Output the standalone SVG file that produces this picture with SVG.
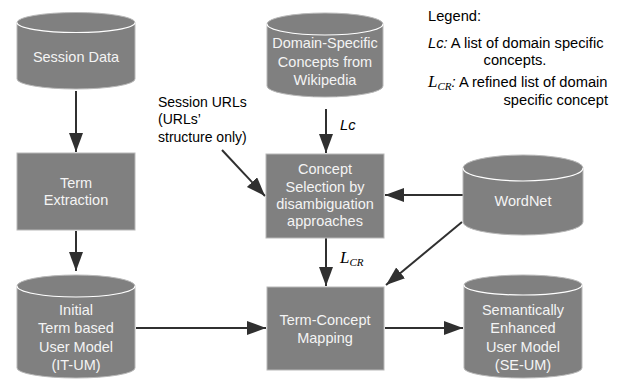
<svg xmlns="http://www.w3.org/2000/svg" width="629" height="379" viewBox="0 0 629 379">
  <style>
    .node { fill: #808080; stroke: #b8b8b8; stroke-width: 1; }
    .seam { fill: none; stroke: #ffffff; stroke-width: 1.2; }
    .label { font-family: "Liberation Sans", Arial, sans-serif; font-size: 14.5px; fill: #f4f4f4; text-anchor: middle; }
    .note { font-family: "Liberation Sans", Arial, sans-serif; font-size: 14px; fill: #000000; }
    .key { font-family: "Liberation Sans", Arial, sans-serif; font-size: 14.7px; fill: #000000; }
    .sym { font-family: "Liberation Serif", "Times New Roman", serif; font-style: italic; fill: #000000; }
    .edge { fill: none; stroke: #303030; stroke-width: 2; }
  </style>
  <defs>
    <marker id="arrow" markerUnits="userSpaceOnUse" markerWidth="20" markerHeight="15" refX="19" refY="7" orient="auto">
      <path d="M0,0 L19,7 L0,14 Z" fill="#303030"/>
    </marker>
  </defs>
  <rect width="629" height="379" fill="#ffffff"/>

  <!-- Connectors -->
  <g id="connectors">
    <line class="edge" x1="76" y1="91" x2="76" y2="152" marker-end="url(#arrow)"/>
    <line class="edge" x1="76" y1="231" x2="76" y2="271" marker-end="url(#arrow)"/>
    <line class="edge" x1="326" y1="109" x2="326" y2="153" marker-end="url(#arrow)"/>
    <line class="edge" x1="222" y1="150" x2="265" y2="196" marker-end="url(#arrow)"/>
    <line class="edge" x1="463" y1="195" x2="385" y2="195" marker-end="url(#arrow)"/>
    <line class="edge" x1="462" y1="222" x2="386" y2="285" marker-end="url(#arrow)"/>
    <line class="edge" x1="326" y1="238" x2="326" y2="286" marker-end="url(#arrow)"/>
    <line class="edge" x1="136" y1="328" x2="266" y2="328" marker-end="url(#arrow)"/>
    <line class="edge" x1="385" y1="328" x2="463" y2="328" marker-end="url(#arrow)"/>
  </g>

  <!-- Session Data store -->
  <g id="session-data">
    <path class="node" d="M17,22.5 A59,10 0 0 1 135,22.5 L135,79 A59,10 0 0 1 17,79 Z"/>
    <path class="seam" d="M17,22.5 A59,10 0 0 0 135,22.5"/>
    <text class="label" x="76" y="62">Session Data</text>
  </g>

  <!-- Domain-specific concepts store -->
  <g id="domain-concepts">
    <path class="node" d="M267,24 A58,11 0 0 1 383,24 L383,86 A58,11 0 0 1 267,86 Z"/>
    <path class="seam" d="M267,24 A58,11 0 0 0 383,24"/>
    <text class="label" x="325" y="48">Domain-Specific</text>
    <text class="label" x="325" y="67">Concepts from</text>
    <text class="label" x="325" y="85">Wikipedia</text>
  </g>

  <!-- Term extraction process -->
  <g id="term-extraction">
    <rect class="node" x="17" y="153" width="118" height="77"/>
    <text class="label" x="76" y="188">Term</text>
    <text class="label" x="76" y="205">Extraction</text>
  </g>

  <!-- Concept selection process -->
  <g id="concept-selection">
    <rect class="node" x="266" y="154" width="118" height="84"/>
    <text class="label" x="325" y="174">Concept</text>
    <text class="label" x="325" y="192">Selection by</text>
    <text class="label" x="325" y="209">disambiguation</text>
    <text class="label" x="325" y="226">approaches</text>
  </g>

  <!-- WordNet store -->
  <g id="wordnet">
    <path class="node" d="M463,168 A60,13 0 0 1 583,168 L583,222 A60,13 0 0 1 463,222 Z"/>
    <path class="seam" d="M463,168 A60,13 0 0 0 583,168"/>
    <text class="label" x="523" y="206">WordNet</text>
  </g>

  <!-- Initial term based user model -->
  <g id="it-um">
    <path class="node" d="M17,286 A59,11 0 0 1 135,286 L135,368 A59,10 0 0 1 17,368 Z"/>
    <path class="seam" d="M17,286 A59,11 0 0 0 135,286"/>
    <text class="label" x="76" y="315">Initial</text>
    <text class="label" x="76" y="333">Term based</text>
    <text class="label" x="76" y="352">User Model</text>
    <text class="label" x="76" y="370">(IT-UM)</text>
  </g>

  <!-- Term-concept mapping process -->
  <g id="term-concept-mapping">
    <rect class="node" x="267" y="287" width="117" height="83"/>
    <text class="label" x="325" y="325">Term-Concept</text>
    <text class="label" x="325" y="343">Mapping</text>
  </g>

  <!-- Semantically enhanced user model -->
  <g id="se-um">
    <path class="node" d="M464,285 A59,10 0 0 1 582,285 L582,368 A59,10 0 0 1 464,368 Z"/>
    <path class="seam" d="M464,285 A59,10 0 0 0 582,285"/>
    <text class="label" x="523" y="315">Semantically</text>
    <text class="label" x="523" y="333">Enhanced</text>
    <text class="label" x="523" y="352">User Model</text>
    <text class="label" x="523" y="370">(SE-UM)</text>
  </g>

  <!-- Edge annotations -->
  <g id="edge-labels">
    <text class="note" x="158" y="107">Session URLs</text>
    <text class="note" x="158" y="124">(URLs’</text>
    <text class="note" x="158" y="142">structure only)</text>
    <text class="key" x="340" y="130" font-style="italic">Lc</text>
    <text class="sym" x="340" y="263" font-size="17">L<tspan font-size="11" dy="3">CR</tspan></text>
  </g>

  <!-- Legend -->
  <g id="legend">
    <text class="key" x="428" y="21">Legend:</text>
    <text class="key" x="428" y="48"><tspan font-style="italic">Lc:</tspan> A list of domain specific</text>
    <text class="key" x="515" y="65" text-anchor="middle">concepts.</text>
    <text class="key" x="428" y="87"><tspan class="sym" font-size="17">L</tspan><tspan class="sym" font-size="11" dy="3">CR</tspan><tspan dy="-3" font-style="italic">:</tspan> A refined list of domain</text>
    <text class="key" x="608" y="105" text-anchor="end">specific concept</text>
  </g>
</svg>
